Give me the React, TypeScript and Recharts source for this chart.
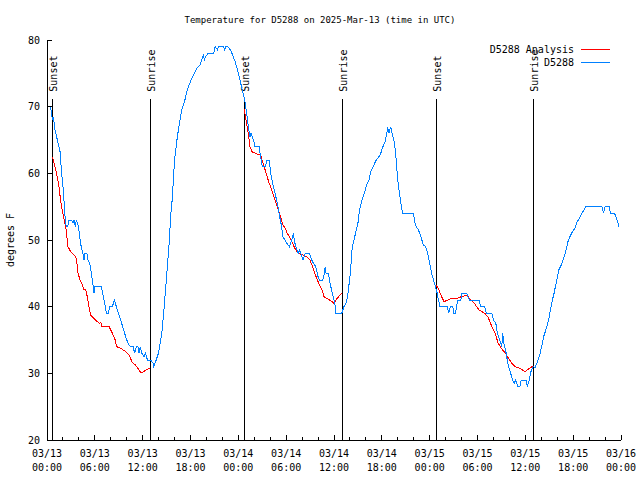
import { LineChart, Line, XAxis, YAxis, ReferenceLine } from 'recharts';

// hours since 03/13 00:00 UTC, degrees F
const observed: [number, number][] = [
  [0, 70], [0.4, 70], [0.55, 69.3], [0.67, 68], [0.8, 68.5], [1.0, 66.5], [1.3, 65], [1.63, 63.3], [1.84, 60],
  [2.05, 57.5], [2.2, 54.5], [2.34, 52.5], [2.45, 52], [2.6, 52], [2.75, 53], [3.1, 53], [3.26, 52.5], [3.4, 53],
  [3.55, 52], [3.68, 53], [3.9, 52.2], [4.0, 51.5], [4.2, 49.5], [4.5, 48], [4.65, 47], [4.75, 48], [5.0, 48],
  [5.14, 47], [5.35, 46.5], [5.56, 45], [5.77, 43.25], [5.9, 42], [6.0, 43], [6.8, 43], [7.07, 41.5], [7.27, 40.25],
  [7.45, 39], [7.7, 39], [7.86, 40], [8.2, 40], [8.45, 41], [8.7, 40], [8.95, 39], [9.24, 38], [9.49, 37], [9.74, 36],
  [10.0, 35], [10.3, 34.25], [10.5, 34], [10.8, 34], [11.0, 33], [11.2, 34], [11.4, 34], [11.55, 33], [11.7, 34],
  [11.9, 33], [12.17, 32.5], [12.35, 33], [12.6, 32], [13.0, 32], [13.3, 31.5], [13.4, 31],
  [13.7, 32], [13.97, 33], [14.2, 34.5], [14.4, 36], [14.7, 40], [14.9, 43], [15.1, 46], [15.35, 50], [15.5, 53.5],
  [15.7, 56], [15.85, 59], [16.0, 62], [16.3, 65], [16.6, 67.5], [16.9, 69.5], [17.3, 71], [17.6, 72.5], [17.9, 73.5],
  [18.35, 74.75], [18.8, 75.75], [19.2, 76.25], [19.4, 77], [19.6, 77.75], [19.75, 77], [19.9, 77.5], [20.2, 78],
  [20.9, 78], [21.1, 79], [21.4, 78.5], [21.5, 79], [21.7, 79], [22.1, 79], [22.3, 78.5], [22.45, 79], [22.7, 79],
  [23.0, 78.5], [23.2, 78], [23.6, 76.75], [23.9, 75.5], [24.2, 74], [24.5, 72.5], [24.8, 71],
  [25.05, 69], [25.25, 67], [25.46, 65.5], [25.6, 66], [25.9, 65], [26.1, 64], [26.6, 64], [26.8, 62.5], [27.0, 61],
  [27.4, 61], [27.6, 62], [27.9, 62], [28.05, 60], [28.3, 58.5], [28.6, 57], [28.9, 55.5], [29.1, 54], [29.35, 52.5],
  [29.6, 50.5], [29.85, 50], [30.1, 49.5], [30.4, 49], [30.7, 50], [30.9, 51], [31.1, 49.5], [31.5, 48], [31.7, 48.5],
  [32.1, 47], [32.4, 48], [32.9, 48], [33.3, 46.75], [33.7, 46], [34.0, 44.5], [34.2, 44], [34.6, 44], [34.8, 45],
  [34.9, 46], [35.0, 45], [35.3, 45], [35.5, 43.5], [35.8, 42], [36.1, 40.5], [36.25, 39], [36.97, 39], [37.25, 40],
  [37.5, 40.5], [37.7, 41.5], [37.9, 43.5], [38.1, 45.5], [38.2, 48], [38.4, 49.5], [38.7, 51], [39.0, 52.5],
  [39.2, 54.5], [39.5, 56], [39.8, 57], [40.1, 58.25], [40.4, 59], [40.6, 60.25], [40.9, 61], [41.3, 62], [41.8, 62.75],
  [42.06, 63.75], [42.4, 64.75], [42.65, 66.25], [42.7, 67], [42.9, 66], [43.1, 67], [43.3, 66], [43.6, 64.5],
  [43.8, 62], [44.0, 59], [44.2, 57], [44.4, 55.5], [44.6, 54], [45.95, 54], [46.2, 52.25], [46.6, 51.5], [46.9, 50.5],
  [47.2, 49.25], [47.5, 49], [47.75, 48], [48.0, 46.5], [48.25, 45], [48.6, 43.5], [48.9, 42.25], [49.1, 41], [49.3, 40],
  [50.2, 40], [50.4, 39], [50.6, 40], [50.9, 40], [51.05, 39], [51.25, 39], [51.5, 41], [51.9, 41], [52.05, 42],
  [52.65, 42], [52.97, 41], [54.2, 41], [54.4, 40], [54.9, 40], [55.1, 39], [55.8, 39], [56.0, 38], [56.3, 37.5],
  [56.5, 36], [56.8, 35], [57.04, 34], [57.17, 36], [57.3, 34.5], [57.6, 33], [57.8, 31.5], [58.1, 30.25], [58.4, 29],
  [58.6, 28.5], [58.8, 29], [59.04, 28], [59.3, 28], [59.5, 29], [60.1, 29], [60.25, 28], [60.5, 29], [60.7, 30.25],
  [61.0, 31], [61.2, 30.8], [61.4, 31.4], [61.75, 32.5], [62.05, 34], [62.3, 35.5], [62.7, 37], [63.0, 38.5],
  [63.3, 40.5], [63.6, 42], [63.9, 43.75], [64.2, 45.5], [64.6, 46.5], [65.0, 48], [65.4, 50], [65.8, 51], [66.2, 51.75],
  [66.5, 52.75], [66.8, 53.25], [67.1, 54], [67.6, 55], [69.6, 55], [69.8, 54], [70.0, 55], [70.5, 55], [70.7, 54],
  [71.2, 54], [71.5, 53], [71.75, 52],
];

const analysisNight1: [number, number][] = [
  [0.67, 62.5], [0.88, 61.5], [1.2, 60], [1.5, 58], [1.7, 56], [1.9, 54.5], [2.2, 52.75], [2.4, 51.5], [2.63, 49],
  [2.97, 48.25], [3.4, 47.75], [3.68, 47.25], [3.9, 45], [4.14, 44], [4.43, 43.25], [4.64, 42.5], [4.85, 42.6],
  [5.05, 41.5], [5.27, 40], [5.48, 38.75], [5.9, 38.25], [6.3, 37.75], [6.6, 37.5], [6.75, 37.7], [6.9, 37], [7.8, 37],
  [8.2, 36], [8.5, 35.25], [8.74, 34], [9.24, 33.75], [9.87, 33.25], [10.3, 32.75], [10.7, 31.6], [11.1, 31.25],
  [11.75, 30.15], [12.0, 30.2], [12.6, 30.6], [12.92, 30.75],
];
const analysisNight2: [number, number][] = [
  [24.75, 69.6], [24.9, 68.5], [25.1, 67], [25.3, 65.5], [25.46, 64], [25.7, 63.25], [26.3, 62.9], [26.8, 62.75],
  [27.1, 61.5], [27.5, 60], [27.8, 58.75], [28.2, 57.5], [28.6, 56], [28.9, 55], [29.1, 54.25], [29.3, 53.5],
  [29.6, 52.25], [29.9, 51.75], [30.1, 51.1], [30.5, 50.25], [30.8, 49.5], [31.1, 48.75], [31.5, 48], [32.1, 47.75],
  [32.6, 47.5], [33.0, 47], [33.3, 46], [33.6, 45], [33.9, 44], [34.2, 43.25], [34.5, 42.5], [34.75, 41.5],
  [35.2, 41.15], [35.6, 40.9], [36.0, 40.5], [36.4, 41.25], [36.97, 42],
];
const analysisNight3: [number, number][] = [
  [48.8, 43.25], [49.1, 42.75], [49.4, 41.75], [49.8, 40.75], [50.3, 41], [50.8, 41.25], [51.4, 41.25], [52.0, 41.5],
  [52.65, 41.75], [53.0, 41.25], [53.6, 40.5], [54.2, 39.5], [54.9, 39], [55.3, 38.5], [55.8, 37], [56.2, 36],
  [56.6, 34.5], [57.0, 33.75], [57.5, 33], [57.9, 32.25], [58.3, 31.5], [58.7, 31], [59.3, 30.75], [60.0, 30.25],
  [60.5, 30.75], [61.0, 31.1],
];

const sunEvents: [string, number][] = [
  ['Sunset', 0.67], ['Sunrise', 12.96], ['Sunset', 24.75], ['Sunrise', 37.05], ['Sunset', 48.84], ['Sunrise', 61.0],
];
const eventTop = 71.2;

const xTicks = [0, 2, 4, 6, 8, 10, 12, 14, 16, 18, 20, 22, 24, 26, 28, 30, 32, 34, 36, 38, 40, 42, 44, 46, 48, 50, 52, 54, 56, 58, 60, 62, 64, 66, 68, 70, 72];
const tickDates = ['03/13', '03/13', '03/13', '03/13', '03/14', '03/14', '03/14', '03/14', '03/15', '03/15', '03/15', '03/15', '03/16'];
const tickTimes = ['00:00', '06:00', '12:00', '18:00'];
const yTicks = [20, 30, 40, 50, 60, 70, 80];

const RED = '#ff0000';
const BLUE = '#0080ff';
const FONT = 'DejaVu Sans Mono, monospace';

const toRows = (pts: [number, number][]) => pts.map(([h, t]) => ({ h, t }));

function BottomTick({ x, y, payload }: any) {
  const v = payload.value;
  const major = v % 6 === 0;
  const i = v / 6;
  return (
    <g>
      <line x1={x} x2={x} y1={y} y2={y - (major ? 5 : 3)} stroke="#000" shapeRendering="crispEdges" />
      {major && (
        <text x={x} y={y + 17} textAnchor="middle" fontFamily={FONT} fontSize={10} fill="#000">
          <tspan x={x}>{tickDates[i]}</tspan>
          <tspan x={x} dy={14}>{tickTimes[i % 4]}</tspan>
        </text>
      )}
    </g>
  );
}

function TopTick({ x, y, payload }: any) {
  const major = payload.value % 6 === 0;
  return <line x1={x} x2={x} y1={y} y2={y + (major ? 5 : 3)} stroke="#000" shapeRendering="crispEdges" />;
}

function LeftTick({ x, y, payload }: any) {
  return (
    <g>
      <line x1={x} x2={x + 5} y1={y} y2={y} stroke="#000" shapeRendering="crispEdges" />
      <text x={x - 7} y={y + 3.5} textAnchor="end" fontFamily={FONT} fontSize={10} fill="#000">
        {payload.value}
      </text>
    </g>
  );
}

function RightTick({ x, y }: any) {
  return <line x1={x} x2={x - 5} y1={y} y2={y} stroke="#000" shapeRendering="crispEdges" />;
}

const eventLabel = (text: string) => (props: any) => {
  const vb = props.viewBox || {};
  const x = vb.x + 4.7;
  const y = vb.y - 7;
  return (
    <text transform={`translate(${x},${y}) rotate(-90)`} textAnchor="start" fontFamily={FONT} fontSize={10} fill="#000">
      {text}
    </text>
  );
};

const axisStyle = { stroke: '#000', shapeRendering: 'crispEdges' };

export default function App() {
  return (
    <div style={{ position: 'absolute', left: 0, top: 0, width: 640, height: 480, background: '#fff' }}>
      <LineChart width={640} height={480} margin={{ top: 40, right: 19, bottom: 0, left: 0 }}>
        <XAxis
          dataKey="h"
          type="number"
          domain={[0, 72]}
          ticks={xTicks}
          interval={0}
          height={40}
          tickSize={0}
          tickMargin={0}
          tick={<BottomTick />}
          tickLine={false}
          axisLine={axisStyle}
          allowDataOverflow
        />
        <XAxis
          xAxisId="top"
          orientation="top"
          dataKey="h"
          type="number"
          domain={[0, 72]}
          ticks={xTicks}
          interval={0}
          height={0}
          tickSize={0}
          tickMargin={0}
          tick={<TopTick />}
          tickLine={false}
          axisLine={axisStyle}
        />
        <YAxis
          type="number"
          domain={[20, 80]}
          ticks={yTicks}
          interval={0}
          width={47}
          tickSize={0}
          tickMargin={0}
          tick={<LeftTick />}
          tickLine={false}
          axisLine={axisStyle}
        />
        <YAxis
          yAxisId="right"
          orientation="right"
          type="number"
          domain={[20, 80]}
          ticks={yTicks}
          interval={0}
          width={0}
          tickSize={0}
          tickMargin={0}
          tick={<RightTick />}
          tickLine={false}
          axisLine={axisStyle}
        />
        {sunEvents.map(([name, h], i) => (
          <ReferenceLine
            key={i}
            segment={[{ x: h, y: eventTop }, { x: h, y: 20 }]}
            stroke="#000"
            strokeWidth={1}
            shapeRendering="crispEdges"
            label={eventLabel(name)}
          />
        ))}
        {[analysisNight1, analysisNight2, analysisNight3].map((seg, i) => (
          <Line
            key={i}
            data={toRows(seg)}
            dataKey="t"
            type="linear"
            stroke={RED}
            strokeWidth={1}
            dot={false}
            shapeRendering="crispEdges"
            isAnimationActive={false}
          />
        ))}
        <Line
          data={toRows(observed)}
          dataKey="t"
          type="linear"
          stroke={BLUE}
          strokeWidth={1}
          dot={false}
          shapeRendering="crispEdges"
          isAnimationActive={false}
        />
      </LineChart>
      <svg width={640} height={480} style={{ position: 'absolute', left: 0, top: 0, pointerEvents: 'none' }}>
        <text x={320} y={23} textAnchor="middle" fontFamily={FONT} fontSize={9} fill="#000">
          Temperature for D5288 on 2025-Mar-13 (time in UTC)
        </text>
        <text transform="translate(14,240) rotate(-90)" textAnchor="middle" fontFamily={FONT} fontSize={10} fill="#000">
          degrees F
        </text>
        <text x={574} y={53} textAnchor="end" fontFamily={FONT} fontSize={10} fill="#000">D5288 Analysis</text>
        <line x1={581} x2={610} y1={49.5} y2={49.5} stroke={RED} />
        <text x={574} y={66} textAnchor="end" fontFamily={FONT} fontSize={10} fill="#000">D5288</text>
        <line x1={581} x2={610} y1={62.5} y2={62.5} stroke={BLUE} />
      </svg>
    </div>
  );
}
